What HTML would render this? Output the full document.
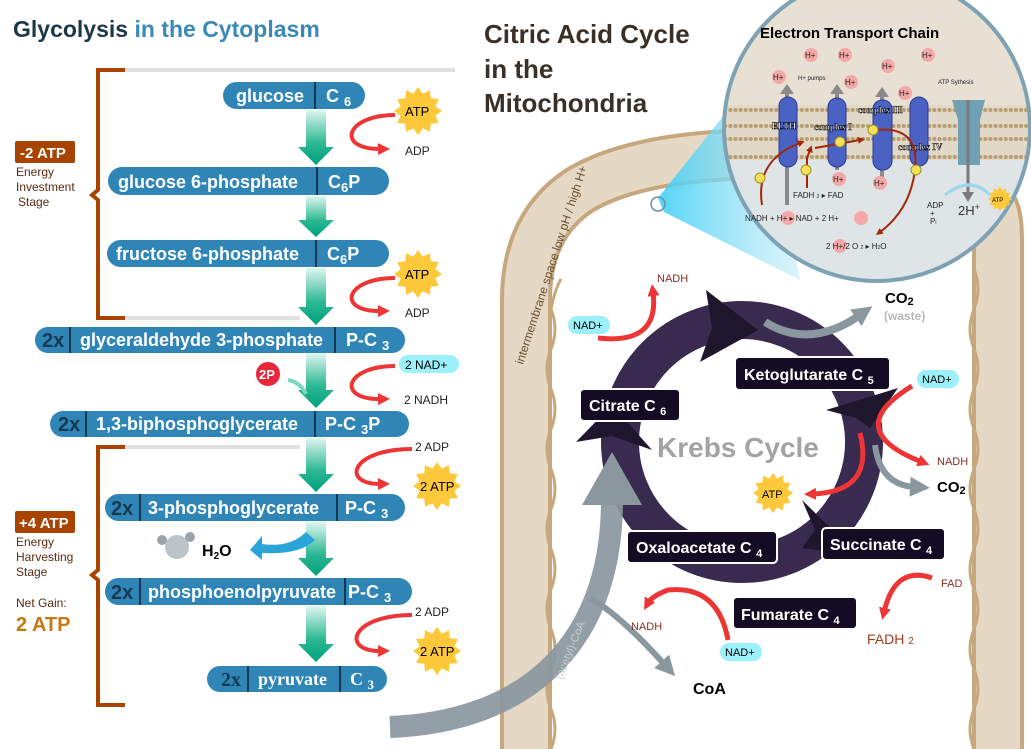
<!DOCTYPE html>
<html><head><meta charset="utf-8"><style>
html,body{margin:0;padding:0;background:#fff;}
svg{display:block;font-family:"Liberation Sans",Arial,sans-serif;}
.pt{fill:#fff;font-weight:bold;font-size:18px;}
.tx{font-weight:bold;fill:#163850;font-size:20px;}
.lb{fill:#5a2a10;font-size:12px;}
.bx{fill:#140c24;stroke:#fff;stroke-width:2;}
.bt{fill:#fff;font-weight:bold;font-size:16px;}
</style></head><body>
<svg width="1031" height="749" viewBox="0 0 1031 749" xmlns="http://www.w3.org/2000/svg">
<defs>
<polygon id="star" points="1,0 .724,.194 .866,.5 .530,.530 .5,.866 .194,.724 0,1 -.194,.724 -.5,.866 -.530,.530 -.866,.5 -.724,.194 -1,0 -.724,-.194 -.866,-.5 -.530,-.530 -.5,-.866 -.194,-.724 0,-1 .194,-.724 .5,-.866 .530,-.530 .866,-.5 .724,-.194" fill="#fdc83a"/>
<linearGradient id="gg" x1="0" y1="0" x2="0" y2="1"><stop offset="0" stop-color="#e0f6f0"/><stop offset=".6" stop-color="#2cb894"/><stop offset="1" stop-color="#00a07c"/></linearGradient>
<linearGradient id="cone" x1="0" y1="0" x2="1" y2="0"><stop offset="0" stop-color="#3fcff5"/><stop offset="1" stop-color="#bfeaf7" stop-opacity=".6"/></linearGradient>
<marker id="ra" markerUnits="userSpaceOnUse" markerWidth="12" markerHeight="12" refX="4" refY="6" orient="auto"><path d="M0,0 L12,6 L0,12 Z" fill="#ee3535"/></marker>
<marker id="ga" markerUnits="userSpaceOnUse" markerWidth="20" markerHeight="20" refX="5" refY="10" orient="auto"><path d="M0,0 L20,10 L0,20 Z" fill="#8a979e"/></marker>
<marker id="da" markerUnits="userSpaceOnUse" markerWidth="7" markerHeight="7" refX="2" refY="3.5" orient="auto"><path d="M0,0 L7,3.5 L0,7 Z" fill="#a02808"/></marker>
<clipPath id="cc"><circle cx="877" cy="128" r="153"/></clipPath>
</defs>

<!-- titles -->
<text x="13" y="37" font-size="23" font-weight="bold" fill="#1c3848">Glycolysis <tspan fill="#3a8ab8">in the Cytoplasm</tspan></text>
<g font-size="26" font-weight="bold" fill="#3a3028"><text x="484" y="43">Citric Acid Cycle</text><text x="484" y="78">in the</text><text x="484" y="112">Mitochondria</text></g>

<!-- brackets -->
<line x1="125" y1="70" x2="455" y2="70" stroke="#e0e0e0" stroke-width="4"/>
<line x1="125" y1="318" x2="300" y2="318" stroke="#e0e0e0" stroke-width="4"/>
<line x1="125" y1="447" x2="300" y2="447" stroke="#e0e0e0" stroke-width="4"/>
<path d="M125,70 H98 V190 L92,195 L98,200 V318 H125" fill="none" stroke="#a84400" stroke-width="4"/>
<path d="M125,447 H98 V570 L92,575 L98,580 V705 H125" fill="none" stroke="#a84400" stroke-width="4"/>
<rect x="15" y="141" width="60" height="22" rx="2" fill="#a84400"/><text x="20" y="158" fill="#fff" font-weight="bold" font-size="15">-2 ATP</text>
<g class="lb"><text x="16" y="176">Energy</text><text x="16" y="191">Investment</text><text x="18" y="206">Stage</text></g>
<rect x="15" y="511" width="60" height="22" rx="2" fill="#a84400"/><text x="19" y="528" fill="#fff" font-weight="bold" font-size="15">+4 ATP</text>
<g class="lb"><text x="16" y="546">Energy</text><text x="16" y="561">Harvesting</text><text x="16" y="576">Stage</text><text x="16" y="607">Net Gain:</text></g>
<text x="16" y="631" font-size="20" font-weight="bold" fill="#c87810">2 ATP</text>

<!-- green arrows -->
<g fill="url(#gg)">
<polygon points="306,110 326,110 326,147 334,147 316,165 298,147 306,147"/>
<polygon points="306,196 326,196 326,220 334,220 316,237 298,220 306,220"/>
<polygon points="306,268 326,268 326,307 334,307 316,325 298,307 306,307"/>
<polygon points="306,353 326,353 326,390 334,390 316,408 298,390 306,390"/>
<polygon points="306,438 326,438 326,474 334,474 316,492 298,474 306,474"/>
<polygon points="306,522 326,522 326,558 334,558 316,576 298,558 306,558"/>
<polygon points="306,606 326,606 326,644 334,644 316,662 298,644 306,644"/>
</g>

<!-- pills -->
<g fill="#2f86b6">
<rect x="223" y="82" width="142" height="27" rx="13.5"/>
<rect x="108" y="167" width="281" height="28" rx="14"/>
<rect x="107" y="240" width="282" height="27" rx="13.5"/>
<rect x="35" y="327" width="370" height="26" rx="13"/>
<rect x="50" y="411" width="359" height="26" rx="13"/>
<rect x="105" y="494" width="300" height="27" rx="13.5"/>
<rect x="105" y="578" width="307" height="27" rx="13.5"/>
<rect x="207" y="666" width="180" height="26" rx="13"/>
</g>
<g stroke="#163850" stroke-width="2">
<line x1="315" y1="82" x2="315" y2="109"/><line x1="317" y1="167" x2="317" y2="195"/><line x1="316" y1="240" x2="316" y2="267"/>
<line x1="70" y1="327" x2="70" y2="353"/><line x1="335" y1="327" x2="335" y2="353"/>
<line x1="86" y1="411" x2="86" y2="437"/><line x1="315" y1="411" x2="315" y2="437"/>
<line x1="140" y1="494" x2="140" y2="521"/><line x1="337" y1="494" x2="337" y2="521"/>
<line x1="140" y1="578" x2="140" y2="605"/><line x1="345" y1="578" x2="345" y2="605"/>
<line x1="248" y1="666" x2="248" y2="692"/><line x1="340" y1="666" x2="340" y2="692"/>
</g>
<g class="pt">
<text x="236" y="102">glucose</text><text x="326" y="102">C <tspan font-size="13" dy="4">6</tspan></text>
<text x="118" y="188">glucose 6-phosphate</text><text x="328" y="188">C<tspan font-size="13" dy="4">6</tspan><tspan dy="-4">P</tspan></text>
<text x="116" y="260">fructose 6-phosphate</text><text x="327" y="260">C<tspan font-size="13" dy="4">6</tspan><tspan dy="-4">P</tspan></text>
<text x="80" y="346">glyceraldehyde 3-phosphate</text><text x="346" y="346">P-C <tspan font-size="13" dy="4">3</tspan></text>
<text x="96" y="430">1,3-biphosphoglycerate</text><text x="325" y="430">P-C <tspan font-size="13" dy="4">3</tspan><tspan dy="-4">P</tspan></text>
<text x="148" y="514">3-phosphoglycerate</text><text x="345" y="514">P-C <tspan font-size="13" dy="4">3</tspan></text>
<text x="148" y="598">phosphoenolpyruvate</text><text x="348" y="598">P-C <tspan font-size="13" dy="4">3</tspan></text>
<text x="258" y="685" font-family="Liberation Serif,serif">pyruvate</text><text x="350" y="685" font-family="Liberation Serif,serif">C <tspan font-size="13" dy="4">3</tspan></text>
</g>
<g class="tx"><text x="42" y="347">2x</text><text x="58" y="431">2x</text><text x="111" y="515">2x</text><text x="111" y="599">2x</text><text x="221" y="686" font-family="Liberation Serif,serif">2x</text></g>

<!-- ATP/ADP side reactions -->
<g fill="none" stroke="#ee3535" stroke-width="4" marker-end="url(#ra)">
<path d="M395,115 C345,115 335,150 382,149"/>
<path d="M395,278 C345,278 335,312 382,311"/>
<path d="M395,366 C345,366 335,400 382,399"/>
<path d="M412,449 C350,449 340,485 382,484"/>
<path d="M412,615 C350,615 340,652 382,651"/>
</g>
<use href="#star" transform="translate(418,111) scale(24)"/><text x="405" y="116" font-size="13">ATP</text>
<use href="#star" transform="translate(418,274) scale(24)"/><text x="405" y="279" font-size="13">ATP</text>
<use href="#star" transform="translate(437,486) scale(24)"/><text x="420" y="491" font-size="13">2 ATP</text>
<use href="#star" transform="translate(437,651) scale(24)"/><text x="420" y="656" font-size="13">2 ATP</text>
<g font-size="12" fill="#222"><text x="405" y="155">ADP</text><text x="405" y="317">ADP</text><text x="404" y="404">2 NADH</text><text x="415" y="451">2 ADP</text><text x="415" y="616">2 ADP</text></g>
<rect x="399" y="355" width="60" height="18" rx="9" fill="#9cf0fa"/><text x="405" y="369" font-size="12">2 NAD+</text>
<circle cx="268" cy="374" r="12" fill="#e8273a"/><text x="259" y="379" font-size="13" font-weight="bold" fill="#fff">2P</text>
<path d="M288,380 Q300,382 306,394" fill="none" stroke="#7dd8c0" stroke-width="4"/>
<!-- H2O -->
<path d="M306,532 Q290,548 262,544 L262,536 L250,550 L262,560 L262,553 Q300,555 315,540 Z" fill="#2aa5d8"/>
<circle cx="177" cy="547" r="12" fill="#bcc4ca"/><circle cx="162" cy="540" r="5" fill="#9aa4aa"/><circle cx="190" cy="537" r="5" fill="#9aa4aa"/>
<text x="202" y="556" font-size="16" font-weight="bold">H<tspan font-size="10" dy="3">2</tspan><tspan dy="-3">O</tspan></text>

<!-- mitochondria membrane -->
<g fill="none" stroke-linejoin="round">
<path d="M526,749 V300 Q526,225 580,190 Q630,160 730,155" stroke="#c7a87e" stroke-width="52"/>
<path d="M526,749 V300 Q526,225 580,190 Q630,160 730,155" stroke="#e5d8c5" stroke-width="44"/>
<path d="M998,749 V240 Q998,210 990,205" stroke="#c7a87e" stroke-width="52"/>
<path d="M998,749 V240 Q998,210 990,205" stroke="#e5d8c5" stroke-width="44"/>
<path d="M551,749 q8,-20 0,-40 q-8,-20 0,-40 q8,-20 0,-40 q-8,-20 0,-40 q8,-20 0,-40 q-8,-20 0,-40 q8,-20 0,-40 q-8,-20 0,-40 q8,-20 0,-40 q-8,-20 0,-40 q8,-20 0,-40 q4,-20 10,-30" stroke="#c7a87e" stroke-width="3"/>
<path d="M974,749 q-8,-20 0,-40 q8,-20 0,-40 q-8,-20 0,-40 q8,-20 0,-40 q-8,-20 0,-40 q8,-20 0,-40 q-8,-20 0,-40 q8,-20 0,-40 q-8,-20 0,-40 q8,-20 0,-40 q-8,-20 0,-40 q8,-20 0,-40" stroke="#c7a87e" stroke-width="3"/>
</g>
<text transform="translate(523,365) rotate(-72)" font-size="12" fill="#6a5030">intermembrane space low pH / high H+</text>

<!-- ETC magnifier -->
<polygon points="658,198 760,70 800,280 664,212" fill="url(#cone)" opacity=".9"/>
<circle cx="658" cy="204" r="7" fill="none" stroke="#6a90a8" stroke-width="1.5"/>
<g clip-path="url(#cc)">
<rect x="720" y="-30" width="320" height="320" fill="#dfe5e7"/>
<rect x="720" y="-30" width="320" height="135" fill="#e8e0d2"/>
<rect x="720" y="105" width="320" height="55" fill="#e1d8c8"/>
<g fill="none" stroke="#b89e70" stroke-width="4" stroke-dasharray="0.1 5" stroke-linecap="round">
<line x1="715" y1="110" x2="1035" y2="110"/><line x1="715" y1="126" x2="1035" y2="126"/><line x1="715" y1="139" x2="1035" y2="139"/><line x1="715" y1="157" x2="1035" y2="157"/>
</g>
</g>
<circle cx="877" cy="128" r="153" fill="none" stroke="#7ea2b4" stroke-width="4"/>
<text x="760" y="38" font-size="15" font-weight="bold">Electron Transport Chain</text>
<g stroke="#8a8a8a" stroke-width="4"><line x1="787" y1="90" x2="787" y2="205"/><line x1="837" y1="90" x2="837" y2="170"/><line x1="882" y1="93" x2="882" y2="178"/></g>
<g fill="#8a8a8a"><polygon points="780,94 794,94 787,84"/><polygon points="830,94 844,94 837,84"/><polygon points="875,97 889,97 882,87"/></g>
<g fill="#4a62c4" stroke="#2a3a90"><rect x="779" y="97" width="18" height="70" rx="9"/><rect x="828" y="98" width="18" height="69" rx="9"/><rect x="873" y="100" width="19" height="70" rx="9"/><rect x="910" y="97" width="18" height="69" rx="9"/></g>
<path d="M952,100 L985,100 L980,120 L980,165 L958,165 L958,120 Z" fill="#6fa0b4"/>
<line x1="968" y1="100" x2="968" y2="195" stroke="#7a7a7a" stroke-width="3"/><polygon points="962,192 974,192 968,202" fill="#7a7a7a"/>
<g font-size="9" font-weight="bold" fill="#fff" stroke="#000" stroke-width=".5" font-family="Liberation Serif,serif"><text x="772" y="129">ELTH</text><text x="814" y="130">complex I</text><text x="858" y="113">complex III</text><text x="898" y="150">complex IV</text></g>
<g fill="none" stroke="#a02808" stroke-width="2"><path d="M762,205 Q755,160 800,143" marker-end="url(#da)"/><path d="M807,188 V158 L810,150" marker-end="url(#da)"/><path d="M815,148 L860,140" marker-end="url(#da)"/><path d="M875,130 Q920,125 915,170 Q910,210 880,232" marker-end="url(#da)"/></g>
<g fill="#f4e05a" stroke="#a09020"><circle cx="760" cy="178" r="5"/><circle cx="806" cy="170" r="5"/><circle cx="840" cy="142" r="5"/><circle cx="873" cy="130" r="5"/><circle cx="916" cy="170" r="5"/></g>
<g fill="#f5a8a8"><circle cx="779" cy="77" r="7"/><circle cx="811" cy="55" r="7"/><circle cx="845" cy="55" r="7"/><circle cx="851" cy="82" r="7"/><circle cx="888" cy="66" r="7"/><circle cx="928" cy="55" r="7"/><circle cx="905" cy="93" r="7"/><circle cx="839" cy="179" r="7"/><circle cx="880" cy="183" r="7"/><circle cx="788" cy="218" r="7"/><circle cx="861" cy="218" r="7"/><circle cx="840" cy="246" r="7"/></g>
<g font-size="8" fill="#222"><text x="773" y="80">H+</text><text x="805" y="58">H+</text><text x="839" y="58">H+</text><text x="845" y="85">H+</text><text x="882" y="69">H+</text><text x="922" y="58">H+</text><text x="899" y="96">H+</text><text x="833" y="182">H+</text><text x="874" y="186">H+</text>
<text x="798" y="80" font-size="6">H+ pumps</text><text x="938" y="84" font-size="6">ATP Sythesis</text>
<text x="793" y="198">FADH <tspan font-size="5">2</tspan> ▸ FAD</text><text x="745" y="221">NADH + H+  ▸  NAD + 2  H+</text><text x="826" y="249">2 H+/2 O    <tspan font-size="5">2</tspan> ▸ H<tspan font-size="5">2</tspan>O</text>
<text x="927" y="208">ADP</text><text x="930" y="216">+</text><text x="930" y="224">P<tspan font-size="5">i</tspan></text></g>
<text x="958" y="215" font-size="13" fill="#333">2H<tspan font-size="9" dy="-5">+</tspan></text>
<path d="M945,195 Q970,175 990,195" fill="none" stroke="#9ad8ec" stroke-width="3"/>
<use href="#star" transform="translate(1000,199) scale(12)"/><text x="992" y="202" font-size="6">ATP</text>

<!-- Krebs cycle ring -->
<circle cx="742" cy="442" r="122" fill="none" stroke="#392b4f" stroke-width="38"/>
<g fill="#1e162c">
<polygon points="706,290 758,330 700,362 712,328"/>
<polygon points="576,442 612,405 652,450 612,436"/>
<polygon points="826,410 898,388 870,428 856,418"/>
<polygon points="802,500 858,555 802,548 815,530"/>
</g>
<text x="657" y="457" font-size="28" font-weight="bold" fill="#a3a3a3">Krebs Cycle</text>
<g class="bx"><rect x="580" y="389" width="100" height="32" rx="4"/><rect x="735" y="357" width="155" height="33" rx="4"/><rect x="822" y="528" width="123" height="32" rx="4"/><rect x="627" y="531" width="150" height="32" rx="4"/><rect x="733" y="597" width="124" height="32" rx="4"/></g>
<g class="bt"><text x="589" y="411">Citrate  C <tspan font-size="11" dy="4">6</tspan></text><text x="744" y="380">Ketoglutarate  C <tspan font-size="11" dy="4">5</tspan></text><text x="830" y="550">Succinate  C <tspan font-size="11" dy="4">4</tspan></text><text x="636" y="553">Oxaloacetate  C <tspan font-size="11" dy="4">4</tspan></text><text x="741" y="620">Fumarate  C <tspan font-size="11" dy="4">4</tspan></text></g>

<!-- gray arrows -->
<g fill="none" stroke="#8a979e">
<path d="M765,322 Q810,350 860,315" stroke-width="8" marker-end="url(#ga)"/>
<path d="M875,445 Q880,485 915,487" stroke-width="6" marker-end="url(#ga)"/>
<path d="M590,598 Q620,615 665,665" stroke-width="6" marker-end="url(#ga)"/>
<path d="M390,727 C520,722 612,650 612,500" stroke-width="22" opacity=".92"/>
</g>
<polygon points="612,452 642,505 582,505" fill="#8a979e"/>
<text transform="translate(562,680) rotate(-68)" font-size="11" fill="#c8ced2">(acetyl)-CoA</text>

<!-- red arrows krebs -->
<g fill="none" stroke="#ee3535" stroke-width="5" marker-end="url(#ra)">
<path d="M598,338 Q660,345 653,292"/>
<path d="M912,386 Q840,430 922,462"/>
<path d="M860,433 Q875,492 812,494"/>
<path d="M932,578 Q895,565 884,612"/>
<path d="M728,640 Q718,585 668,590 Q652,596 648,603"/>
</g>
<use href="#star" transform="translate(773,493) scale(20)"/><text x="762" y="498" font-size="11">ATP</text>
<g font-size="11" fill="#8b2a20"><text x="657" y="282">NADH</text><text x="937" y="465">NADH</text><text x="631" y="630">NADH</text><text x="941" y="587">FAD</text></g>
<text x="867" y="644" font-size="14" fill="#a03a1a">FADH <tspan font-size="10">2</tspan></text>
<g fill="#9cf0fa"><rect x="568" y="316" width="42" height="18" rx="9"/><rect x="917" y="370" width="42" height="18" rx="9"/><rect x="720" y="643" width="42" height="18" rx="9"/></g>
<g font-size="11"><text x="573" y="329">NAD+</text><text x="922" y="383">NAD+</text><text x="725" y="656">NAD+</text></g>
<text x="885" y="303" font-size="15" font-weight="bold">CO<tspan font-size="11" dy="2">2</tspan></text>
<text x="884" y="320" font-size="12" font-weight="bold" fill="#b8b8b8">(waste)</text>
<text x="937" y="492" font-size="15" font-weight="bold">CO<tspan font-size="11" dy="2">2</tspan></text>
<text x="693" y="694" font-size="16" font-weight="bold">CoA</text>
</svg>
</body></html>
